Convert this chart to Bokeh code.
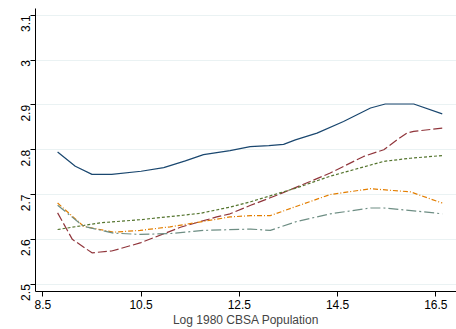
import math
from bokeh.plotting import figure
from bokeh.embed import file_html
from bokeh.resources import INLINE
from bokeh.models import Range1d, FixedTicker

x_ticks = [8.5, 10.5, 12.5, 14.5, 16.5]
y_ticks = [2.5, 2.6, 2.7, 2.8, 2.9, 3.0, 3.1]
y_tick_labels = {2.5: "2.5", 2.6: "2.6", 2.7: "2.7", 2.8: "2.8", 2.9: "2.9", 3.0: "3", 3.1: "3.1"}

navy_x = [8.80, 9.16, 9.50, 9.90, 10.50, 10.96, 11.40, 11.77, 12.31, 12.72, 13.10, 13.40, 13.64, 14.08, 14.62, 15.17, 15.47, 16.05, 16.63]
navy_y = [2.795, 2.763, 2.745, 2.745, 2.752, 2.760, 2.775, 2.789, 2.798, 2.807, 2.809, 2.812, 2.822, 2.837, 2.863, 2.893, 2.902, 2.902, 2.880]

maroon_x = [8.80, 9.10, 9.50, 9.90, 10.48, 11.30, 12.04, 12.31, 12.73, 13.30, 13.94, 14.35, 15.03, 15.44, 15.71, 15.91, 16.05, 16.63]
maroon_y = [2.659, 2.600, 2.570, 2.574, 2.592, 2.627, 2.650, 2.657, 2.676, 2.700, 2.729, 2.748, 2.785, 2.800, 2.822, 2.837, 2.841, 2.848]

green_x = [8.80, 9.33, 9.67, 10.50, 11.70, 12.31, 12.73, 13.67, 14.35, 15.44, 15.98, 16.63]
green_y = [2.622, 2.631, 2.637, 2.644, 2.658, 2.672, 2.684, 2.715, 2.741, 2.774, 2.781, 2.787]

orange_x = [8.80, 9.33, 9.94, 10.48, 11.09, 11.77, 12.31, 12.73, 13.13, 13.67, 14.35, 15.17, 15.98, 16.63]
orange_y = [2.681, 2.629, 2.616, 2.620, 2.628, 2.640, 2.650, 2.653, 2.653, 2.674, 2.700, 2.713, 2.706, 2.681]

teal_x = [8.80, 9.33, 9.94, 10.48, 11.09, 11.77, 12.73, 13.13, 13.67, 14.35, 15.17, 15.44, 16.12, 16.63]
teal_y = [2.676, 2.629, 2.614, 2.611, 2.613, 2.620, 2.623, 2.620, 2.640, 2.657, 2.670, 2.670, 2.663, 2.657]

p = figure(width=456, height=329, output_backend="svg", toolbar_location=None,
           x_range=Range1d(8.35, 16.92), y_range=Range1d(2.4837, 3.115),
           min_border_left=35, min_border_right=0, min_border_top=8, min_border_bottom=37)
p.outline_line_color = None
p.background_fill_color = "white"
p.border_fill_color = "white"

p.xgrid.visible = False
p.ygrid.grid_line_color = "#eaf2f3"
p.ygrid.grid_line_width = 1

p.xaxis.ticker = FixedTicker(ticks=x_ticks)
p.yaxis.ticker = FixedTicker(ticks=y_ticks)
p.yaxis.major_label_overrides = y_tick_labels
p.yaxis.major_label_orientation = math.pi / 2
for ax in (p.xaxis[0], p.yaxis[0]):
    ax.axis_line_color = "black"
    ax.axis_line_width = 1
    ax.major_tick_line_color = "black"
    ax.major_tick_in = 0
    ax.major_tick_out = 5
    ax.minor_tick_line_color = None
    ax.major_label_text_font = "Liberation Sans"
    ax.major_label_text_font_size = "12px"
    ax.major_label_text_color = "black"
    ax.major_label_standoff = 3
p.yaxis.major_label_standoff = 5
p.xaxis.axis_label = "Log 1980 CBSA Population"
p.xaxis.axis_label_text_font = "Liberation Sans"
p.xaxis.axis_label_text_font_size = "12px"
p.xaxis.axis_label_text_font_style = "normal"
p.xaxis.axis_label_standoff = 1

p.line(navy_x, navy_y, line_color="#1a476f", line_width=1.2)
p.line(maroon_x, maroon_y, line_color="#90353b", line_width=1.2, line_dash="9 3")
p.line(green_x, green_y, line_color="#55752f", line_width=1.2, line_dash="3 2")
p.line(orange_x, orange_y, line_color="#e37e00", line_width=1.2, line_dash="5 2 1 2")
p.line(teal_x, teal_y, line_color="#6e8e84", line_width=1.2, line_dash="10 3 2 3")

open("out.html", "w").write(file_html(p, INLINE))
